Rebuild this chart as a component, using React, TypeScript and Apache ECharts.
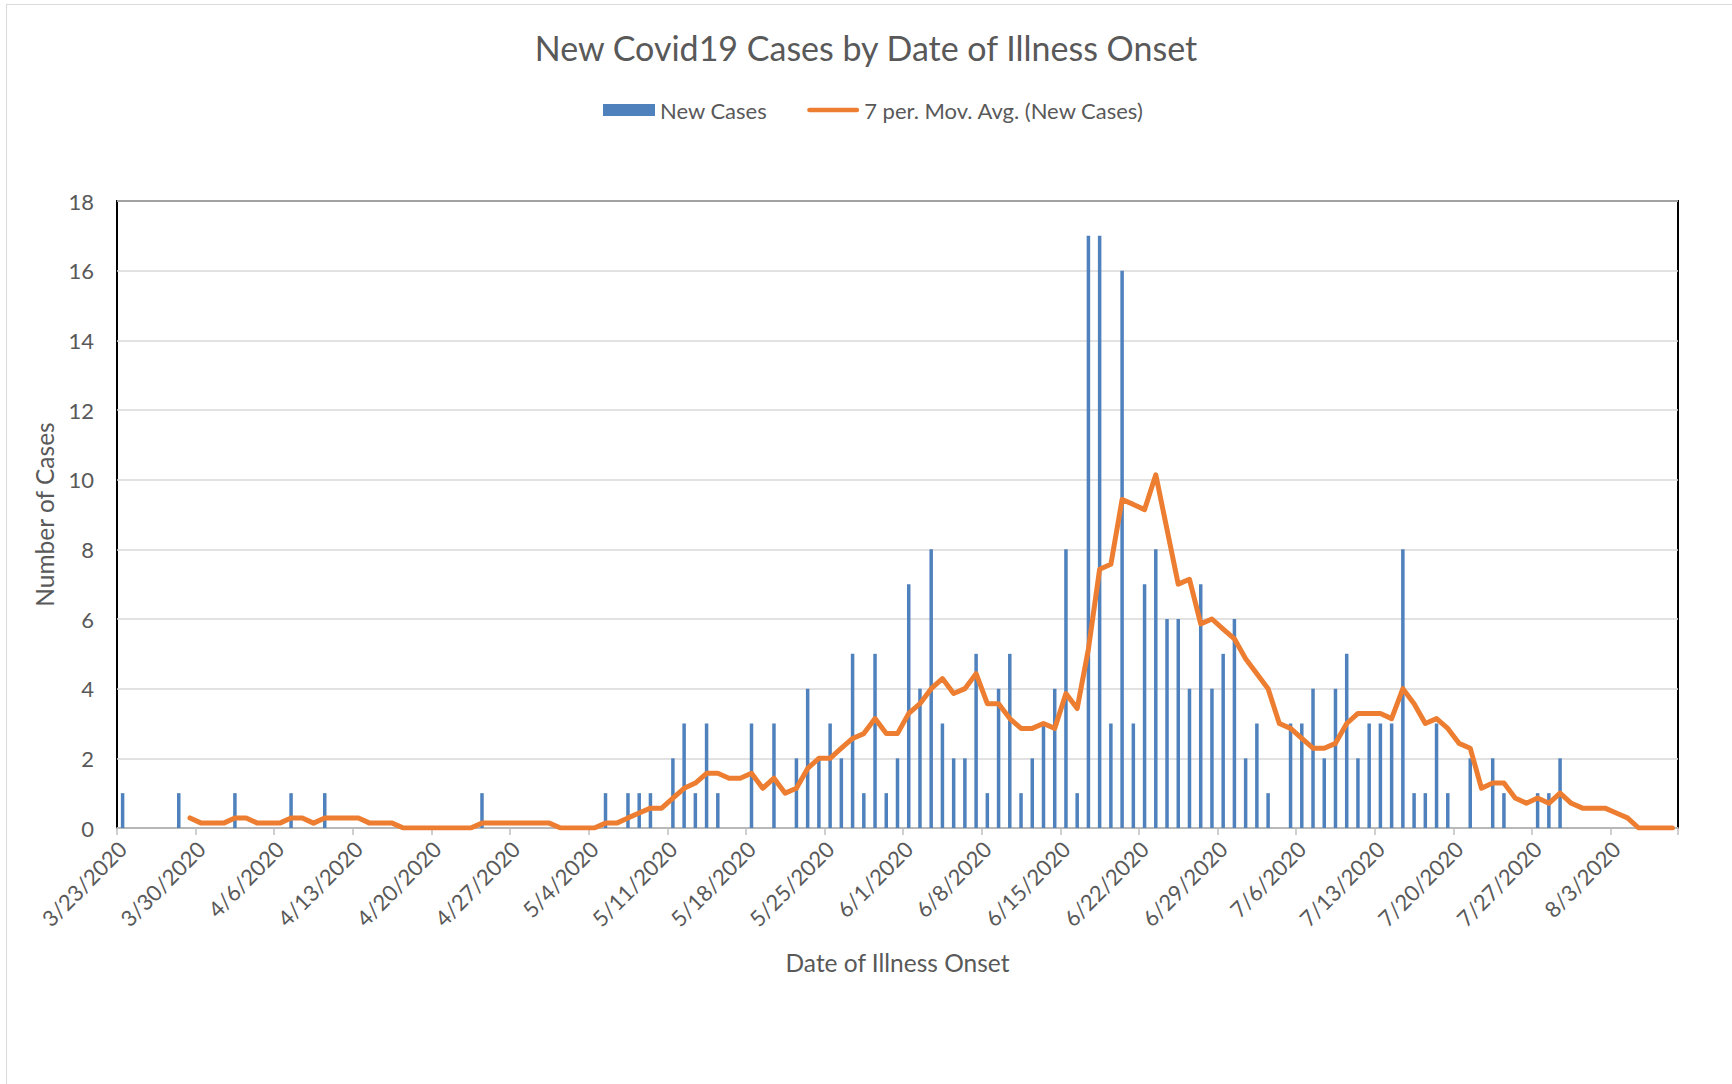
import React, { useEffect, useRef } from "react";
import * as echarts from "echarts";

// One entry per day, starting 3/23/2020 (139 days, through 8/8/2020)
const START_YEAR = 2020;
const START_MONTH = 2; // March (0-based)
const START_DAY = 23;

const newCases: number[] = [
  1, 0, 0, 0, 0, 1, 0,
  0, 0, 0, 1, 0, 0, 0,
  0, 1, 0, 0, 1, 0, 0,
  0, 0, 0, 0, 0, 0, 0,
  0, 0, 0, 0, 1, 0, 0,
  0, 0, 0, 0, 0, 0, 0,
  0, 1, 0, 1, 1, 1, 0,
  2, 3, 1, 3, 1, 0, 0,
  3, 0, 3, 0, 2, 4, 2,
  3, 2, 5, 1, 5, 1, 2,
  7, 4, 8, 3, 2, 2, 5,
  1, 4, 5, 1, 2, 3, 4,
  8, 1, 17, 17, 3, 16, 3,
  7, 8, 6, 6, 4, 7, 4,
  5, 6, 2, 3, 1, 0, 3,
  3, 4, 2, 4, 5, 2, 3,
  3, 3, 8, 1, 1, 3, 1,
  0, 2, 0, 2, 1, 0, 0,
  1, 1, 2, 0, 0, 0, 0,
  0, 0, 0, 0, 0, 0,
];

const movingAvg: (number | null)[] = [
  null, null, null, null, null, null, 0.29,
  0.14, 0.14, 0.14, 0.29, 0.29, 0.14, 0.14,
  0.14, 0.29, 0.29, 0.14, 0.29, 0.29, 0.29,
  0.29, 0.14, 0.14, 0.14, 0, 0, 0,
  0, 0, 0, 0, 0.14, 0.14, 0.14,
  0.14, 0.14, 0.14, 0.14, 0, 0, 0,
  0, 0.14, 0.14, 0.29, 0.43, 0.57, 0.57,
  0.86, 1.14, 1.29, 1.57, 1.57, 1.43, 1.43,
  1.57, 1.14, 1.43, 1.0, 1.14, 1.71, 2.0,
  2.0, 2.29, 2.57, 2.71, 3.14, 2.71, 2.71,
  3.29, 3.57, 4.0, 4.29, 3.86, 4.0, 4.43,
  3.57, 3.57, 3.14, 2.86, 2.86, 3.0, 2.86,
  3.86, 3.43, 5.14, 7.43, 7.57, 9.43, 9.29,
  9.14, 10.14, 8.57, 7.0, 7.14, 5.86, 6.0,
  5.71, 5.43, 4.86, 4.43, 4.0, 3.0, 2.86,
  2.57, 2.29, 2.29, 2.43, 3.0, 3.29, 3.29,
  3.29, 3.14, 4.0, 3.57, 3.0, 3.14, 2.86,
  2.43, 2.29, 1.14, 1.29, 1.29, 0.86, 0.71,
  0.86, 0.71, 1.0, 0.71, 0.57, 0.57, 0.57,
  0.43, 0.29, 0, 0, 0, 0,
];

const dates: string[] = newCases.map((_, i) => {
  const d = new Date(START_YEAR, START_MONTH, START_DAY + i);
  return `${d.getMonth() + 1}/${d.getDate()}/${d.getFullYear()}`;
});

const yTicks = { min: 0, max: 18, interval: 2 };

const TEXT = "#595959";
const FONT = "Lato";
const BLUE = "#4F81BD";
const ORANGE = "#ED7D31";

const LINE_ICON =
  "path://M2.5,0 H52.5 A2.5,2.5 0 0 1 52.5,5 H2.5 A2.5,2.5 0 0 1 2.5,0 Z";

export default function App() {
  const ref = useRef<HTMLDivElement>(null);

  useEffect(() => {
    if (!ref.current) return;
    const chart = echarts.init(ref.current, undefined, { renderer: "svg" });
    chart.setOption({
      animation: false,
      textStyle: { fontFamily: FONT, color: TEXT },
      title: {
        text: "New Covid19 Cases by Date of Illness Onset",
        left: "center",
        top: 25,
        textStyle: { fontFamily: FONT, fontSize: 34, fontWeight: "normal", color: TEXT },
      },
      legend: {
        left: 603,
        top: 99,
        padding: 0,
        itemWidth: 52,
        itemHeight: 12,
        itemGap: 40,
        symbolKeepAspect: true,
        textStyle: { fontFamily: FONT, fontSize: 22, color: TEXT },
        data: [
          { name: "New Cases", icon: "rect", itemStyle: { color: BLUE } },
          { name: "7 per. Mov. Avg. (New Cases)", icon: LINE_ICON, itemStyle: { color: ORANGE } },
        ],
      },
      grid: {
        left: 117,
        top: 201,
        right: 54,
        bottom: 256,
        show: true,
        borderColor: "#000000",
        borderWidth: 2,
        containLabel: false,
      },
      xAxis: {
        type: "category",
        data: dates,
        boundaryGap: true,
        name: "Date of Illness Onset",
        nameLocation: "middle",
        nameGap: 122,
        nameTextStyle: { fontFamily: FONT, fontSize: 24.5, color: TEXT },
        axisLine: { show: true, lineStyle: { color: "#bfbfbf", width: 1.5 } },
        axisTick: { show: true, interval: 6, length: 7, lineStyle: { color: "#bfbfbf", width: 1.5 } },
        axisLabel: {
          interval: 6,
          rotate: 45,
          margin: 17,
          fontFamily: FONT,
          fontSize: 22,
          color: TEXT,
        },
        splitLine: { show: false },
      },
      yAxis: {
        type: "value",
        min: yTicks.min,
        max: yTicks.max,
        interval: yTicks.interval,
        name: "Number of Cases",
        nameLocation: "middle",
        nameGap: 60,
        nameTextStyle: { fontFamily: FONT, fontSize: 24.5, color: TEXT },
        axisLine: { show: false },
        axisTick: { show: false },
        axisLabel: { margin: 23, fontFamily: FONT, fontSize: 22, color: TEXT },
        splitLine: { show: true, lineStyle: { color: "#d9d9d9", width: 1.5 } },
      },
      series: [
        {
          name: "New Cases",
          type: "bar",
          data: newCases,
          barWidth: 3.5,
          itemStyle: { color: BLUE },
          z: 2,
        },
        {
          name: "7 per. Mov. Avg. (New Cases)",
          type: "line",
          data: movingAvg,
          symbol: "none",
          showSymbol: false,
          lineStyle: { color: ORANGE, width: 5, cap: "round", join: "round" },
          itemStyle: { color: ORANGE },
          z: 3,
        },
      ],
    });
    return () => chart.dispose();
  }, []);

  return (
    <>
      <div
        style={{
          position: "absolute",
          left: 6,
          top: 4,
          width: 1726,
          height: 1080,
          boxSizing: "border-box",
          borderLeft: "1.5px solid #d9d9d9",
          borderTop: "1.5px solid #d9d9d9",
          pointerEvents: "none",
        }}
      />
      <div
        ref={ref}
        style={{ position: "absolute", left: 0, top: 0, width: 1732, height: 1084 }}
      />
    </>
  );
}
